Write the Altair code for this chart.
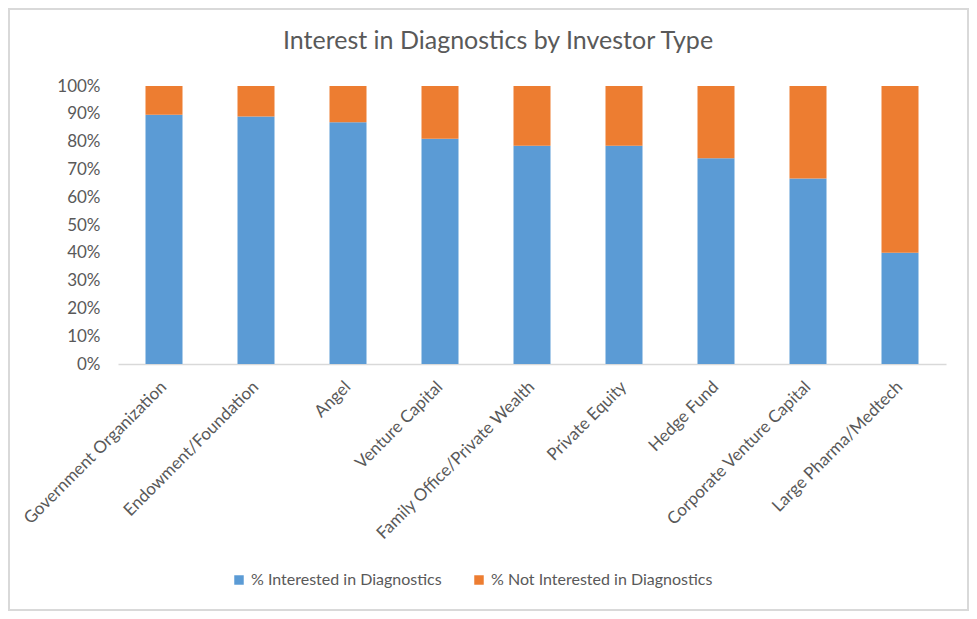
import altair as alt
import pandas as pd

categories = [
    "Government Organization",
    "Endowment/Foundation",
    "Angel",
    "Venture Capital",
    "Family Office/Private Wealth",
    "Private Equity",
    "Hedge Fund",
    "Corporate Venture Capital",
    "Large Pharma/Medtech",
]
interested = [0.897, 0.890, 0.870, 0.810, 0.785, 0.785, 0.740, 0.667, 0.400]
not_interested = [0.103, 0.110, 0.130, 0.190, 0.215, 0.215, 0.260, 0.333, 0.600]
series = ["% Interested in Diagnostics", "% Not Interested in Diagnostics"]
colors = ["#5B9BD5", "#ED7D31"]
title_text = "Interest in Diagnostics by Investor Type"

rows = []
for c, a, b in zip(categories, interested, not_interested):
    rows.append({"cat": c, "series": series[0], "value": a, "ord": 0})
    rows.append({"cat": c, "series": series[1], "value": b, "ord": 1})
df = pd.DataFrame(rows)

FONT = "Lato"
GREY = "#595959"

bars = alt.Chart(df).mark_bar(size=37).encode(
    x=alt.X("cat:N", sort=categories, title=None,
            scale=alt.Scale(paddingInner=0.6, paddingOuter=0.3),
            axis=alt.Axis(labelAngle=315, labelAlign="right", labelBaseline="middle",
                          labelPadding=20, ticks=False, domainColor="#D9D9D9",
                          domainWidth=1.5, labelFontSize=17, labelColor=GREY,
                          labelFont=FONT, labelLimit=400)),
    y=alt.Y("value:Q", stack="zero", title=None,
            scale=alt.Scale(domain=[0, 1], nice=False),
            axis=alt.Axis(format=".0%", values=[i / 10 for i in range(11)],
                          grid=False, domain=False, ticks=False, labelPadding=18,
                          labelFontSize=17, labelColor=GREY, labelFont=FONT)),
    color=alt.Color("series:N", sort=series,
                    scale=alt.Scale(domain=series, range=colors),
                    legend=alt.Legend(title=None, orient="none", direction="horizontal",
                                      legendX=113, legendY=486, symbolType="square",
                                      symbolSize=90, symbolStrokeWidth=0,
                                      labelFontSize=16, labelColor=GREY, labelFont=FONT,
                                      labelOffset=4, columnPadding=29, labelLimit=400)),
    order=alt.Order("ord:Q"),
)

border = alt.Chart(df).mark_rect(fill=None, stroke="#D9D9D9", strokeWidth=1.5).encode(
    x=alt.value(-109), x2=alt.value(850), y=alt.value(-77), y2=alt.value(524)
)

title = alt.Chart(pd.DataFrame({"t": [title_text]})).mark_text(
    font=FONT, fontSize=25, color=GREY, align="center", baseline="alphabetic"
).encode(text="t:N", x=alt.value(380), y=alt.value(-37))

chart = alt.layer(border, bars, title).properties(
    width=828,
    height=278,
    autosize=alt.AutoSizeParams(type="none"),
    padding={"left": 110, "top": 78, "right": 23, "bottom": 247},
).configure_view(stroke=None)

chart.save("out.html", embed_options={"renderer": "svg", "actions": False})
